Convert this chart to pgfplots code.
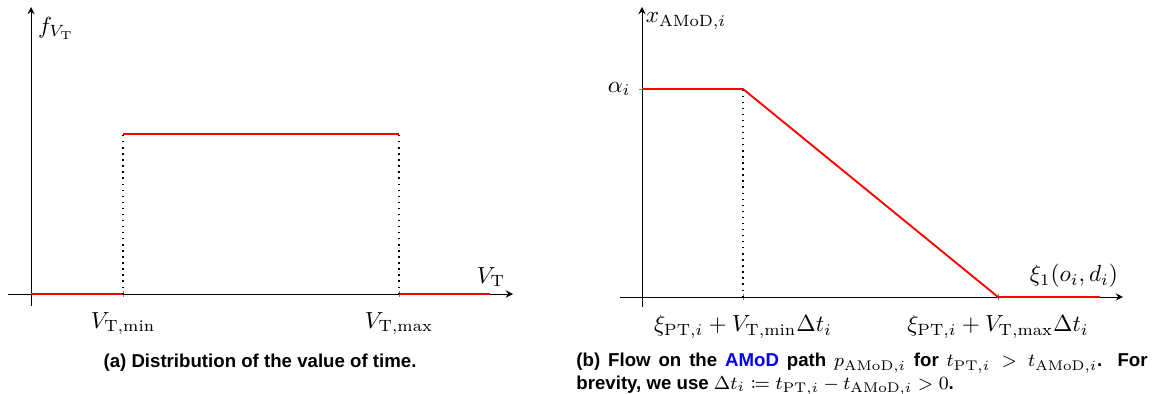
\documentclass[border=0pt]{standalone}
\usepackage{mathtools}
\usepackage{pgfplots}
\pgfplotsset{compat=1.18}
\usepackage{fontspec}
\newfontfamily\capfont{Liberation Sans}
\begin{document}
\begin{tikzpicture}[x=0.429pt,y=-0.429pt]
\useasboundingbox (0,0) rectangle (1158,394);
% ---------- (a) ----------
\begin{axis}[
  x=0.429pt, y=0.429pt,
  anchor=origin, at={(13.30pt,-126.13pt)},
  axis lines=middle,
  xmin=-23, xmax=482, ymin=-12, ymax=287,
  xtick={92,368},
  xticklabels={$V_{\mathrm{T},\min}$,$V_{\mathrm{T},\max}$},
  ytick=\empty,
  tick align=center,
  major tick length=0.1cm,
  xticklabel style={yshift=-3pt},
  clip=false,
]
\addplot[red, thick] coordinates {(0,0) (92,0)};
\addplot[red, thick] coordinates {(92,160) (368,160)};
\addplot[red, thick] coordinates {(368,0) (459,0)};
\addplot[black, dotted, semithick] coordinates {(92,0) (92,160)};
\addplot[black, dotted, semithick] coordinates {(368,0) (368,160)};
\node at (axis cs:460,17) {$V_\mathrm{T}$};
\node at (axis cs:25,266) {$f_{V_\mathrm{T}}$};
\end{axis}
% ---------- (b) ----------
\begin{axis}[
  x=0.429pt, y=0.429pt,
  anchor=origin, at={(275.42pt,-127.41pt)},
  axis lines=middle,
  xmin=-22, xmax=481, ymin=-10, ymax=290,
  xtick={101,356},
  xticklabels={$\xi_{\mathrm{PT},i}+V_{\mathrm{T},\min}\Delta t_i$,$\xi_{\mathrm{PT},i}+V_{\mathrm{T},\max}\Delta t_i$},
  ytick={208},
  yticklabels={$\alpha_i$},
  tick align=center,
  major tick length=0.1cm,
  xticklabel style={yshift=-3pt},
  clip=false,
]
\addplot[red, thick] coordinates {(0,208) (101,208) (356,0) (458,0)};
\addplot[black, dotted, semithick] coordinates {(101,0) (101,208)};
\node at (axis cs:432,21) {$\xi_1(o_i,d_i)$};
\node at (axis cs:44,276) {$x_{\mathrm{AMoD},i}$};
\end{axis}
% ---------- captions ----------
\node[font=\footnotesize\capfont\bfseries, anchor=base, inner sep=0pt] at (260,368) {(a) Distribution of the value of time.};
\node[font=\footnotesize\capfont\bfseries, anchor=base west, inner sep=0pt, text width=245pt, align=justify] at (576,367)
  {(b) Flow on the \textcolor{blue}{AMoD} path $p_{\mathrm{AMoD},i}$ for $t_{\mathrm{PT},i} > t_{\mathrm{AMoD},i}$. For\linebreak brevity, we use $\Delta t_i \coloneqq t_{\mathrm{PT},i} - t_{\mathrm{AMoD},i} > 0$.};
\end{tikzpicture}
\end{document}
